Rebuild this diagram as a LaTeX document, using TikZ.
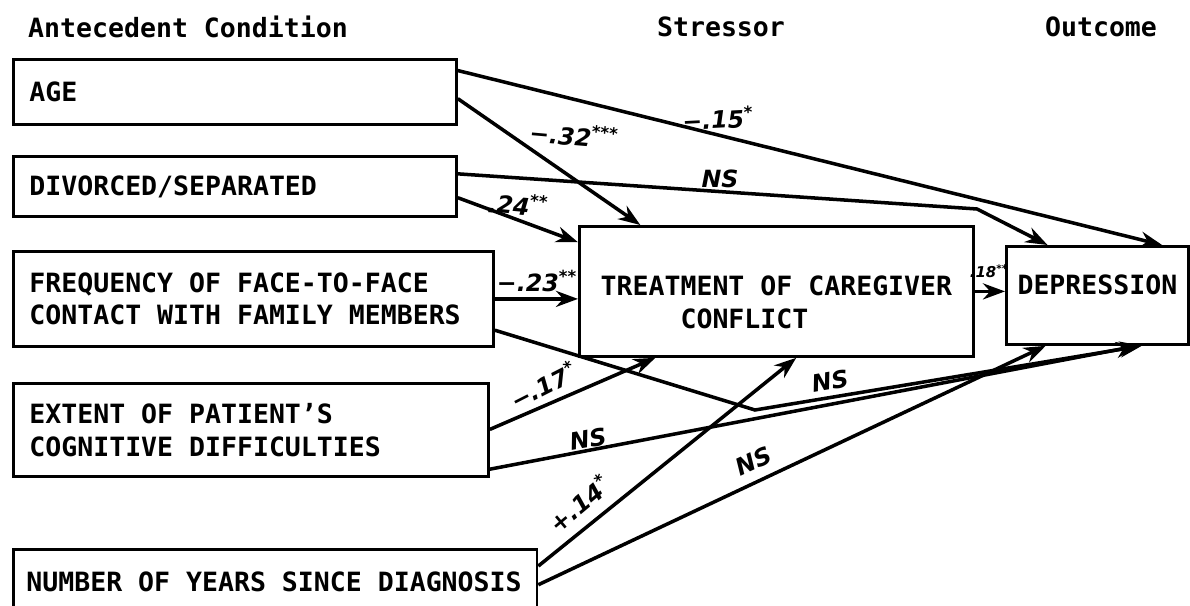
\documentclass[tikz,border=0pt]{standalone}
\usepackage{fontspec}
\newfontfamily\boxfont{DejaVu Sans Mono}
\newfontfamily\pathfont{DejaVu Sans}
\usetikzlibrary{arrows.meta,positioning,calc}

\tikzset{
  varbox/.style={draw, line width=1.6pt, anchor=north west, align=flush left, inner xsep=3.2mm, inner ysep=0pt,
    font=\boxfont\bfseries\fontsize{15.1}{18.7}\selectfont},
  heading/.style={font=\boxfont\bfseries\fontsize{15.1}{18.7}\selectfont},
  path arrow/.style={-{Stealth[length=4.4mm,width=3.2mm]}, line width=2pt},
  coef/.style={font=\pathfont\bfseries\itshape\fontsize{13.5}{15}\selectfont, inner sep=1pt}
}

\begin{document}
\begin{tikzpicture}[x=0.2mm, y=-0.2mm]
  \useasboundingbox (0,0) rectangle (1190,606);
  \clip (0,0) rectangle (1190,606);
  % Column headings
  \node[heading] (antehead) at (188,27) {Antecedent Condition};
  \node[heading] (stresshead) at (721,27) {Stressor};
  \node[heading] (outhead) at (1101,27) {Outcome};
  % Antecedent conditions
  \node[varbox, text width=82.2mm, minimum height=13mm] (age) at (12,58) {AGE};
  \node[varbox, text width=82.2mm, minimum height=12mm] (div) at (12,155) {DIVORCED/SEPARATED};
  \node[varbox, text width=89.6mm, minimum height=19mm] (freq) at (12,250) {FREQUENCY OF FACE-TO-FACE\\CONTACT WITH FAMILY MEMBERS};
  \node[varbox, text width=88.6mm, minimum height=18.6mm] (ext) at (12,382) {EXTENT OF PATIENT’S\\COGNITIVE DIFFICULTIES};
  \node[varbox, text width=99.5mm, inner xsep=2.6mm, minimum height=12.8mm] (years) at (12,548) {NUMBER OF YEARS SINCE DIAGNOSIS};
  % Stressor and outcome
  \node[varbox, inner xsep=0pt, minimum width=78.8mm, minimum height=26mm] (treat) at (578,225) {\rule{0pt}{8.3mm}TREATMENT OF CAREGIVER\\\phantom{TREAT}CONFLICT};
  \node[varbox, inner xsep=0pt, minimum width=36.4mm, minimum height=19.6mm, text depth=4.4mm] (dep) at (1005,245) {DEPRESSION};
  % Bends
  \coordinate (bendA) at (977,209);
  \coordinate (bendB) at (755,410);
  % Paths
  \draw[path arrow] ($(age.north east)!0.6!(age.south east)$) -- ($(treat.north west)!0.157!(treat.north east)$);
  \draw[path arrow] ($(age.north east)!0.185!(age.south east)$) -- ($(dep.north west)!0.85!(dep.north east)$);
  \draw[path arrow] ($(div.north east)!0.3!(div.south east)$) -- (bendA) -- ($(dep.north west)!0.23!(dep.north east)$);
  \draw[path arrow] ($(div.north east)!0.68!(div.south east)$) -- ($(treat.north west)!0.13!(treat.south west)$);
  \draw[path arrow] (freq.east) -- (freq.east -| treat.west);
  \draw[path arrow] ($(freq.north east)!0.82!(freq.south east)$) -- (bendB) -- ($(dep.south west)!0.74!(dep.south east)$);
  \draw[path arrow] ($(ext.north east)!0.495!(ext.south east)$) -- ($(treat.south west)!0.195!(treat.south east)$);
  \draw[path arrow] ($(ext.north east)!0.91!(ext.south east)$) -- ($(dep.south west)!0.72!(dep.south east)$);
  \draw[path arrow] ($(years.north east)!0.27!(years.south east)$) -- ($(treat.south west)!0.55!(treat.south east)$);
  \draw[path arrow] ($(years.north east)!0.55!(years.south east)$) -- ($(dep.south west)!0.22!(dep.south east)$);
  \draw[path arrow] (treat.east) -- (treat.east -| dep.west);
  % Coefficients
  \node[coef, rotate=-5] (c32) at (574,135) {−.32\textsuperscript{***}};
  \node[coef, rotate=3] (c15) at (718,118) {−.15\textsuperscript{*}};
  \node[coef] (cns1) at (720,179) {NS};
  \node[coef, rotate=-5] (c24) at (518,204) {.24\textsuperscript{**}};
  \node[coef] (c23) at (537,281) {−.23\textsuperscript{**}};
  \node[coef, font=\pathfont\bfseries\itshape\fontsize{8.5}{9}\selectfont] (c18) at (989,271) {.18\textsuperscript{**}};
  \node[coef, rotate=27] (c17) at (543,385) {−.17\textsuperscript{*}};
  \node[coef, rotate=10] (cns2) at (588,439) {NS};
  \node[coef, rotate=10] (cns3) at (830,381) {NS};
  \node[coef, rotate=40] (c14) at (579,503) {+.14\textsuperscript{*}};
  \node[coef, rotate=25] (cns4) at (754,461) {NS};
\end{tikzpicture}
\end{document}
